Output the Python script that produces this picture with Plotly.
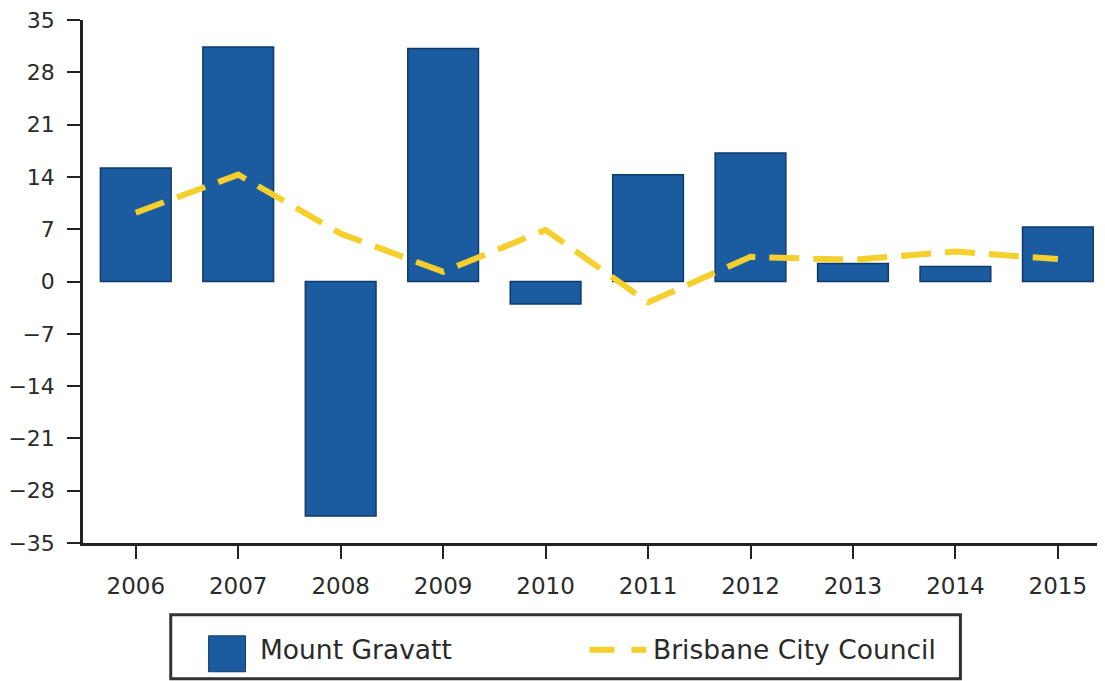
import plotly.graph_objects as go

years = ["2006", "2007", "2008", "2009", "2010", "2011", "2012", "2013", "2014", "2015"]
mount_gravatt = [15.2, 31.4, -31.4, 31.2, -3.0, 14.3, 17.2, 2.4, 2.0, 7.3]
brisbane_city = [9.2, 14.3, 6.4, 1.3, 6.9, -2.8, 3.3, 2.9, 4.0, 3.0]
y_ticks = [-35, -28, -21, -14, -7, 0, 7, 14, 21, 28, 35]

BLUE = "#1a5c9f"
YELLOW = "#f5cf2c"
TXT = "#2a2a2a"

fig = go.Figure()
fig.add_trace(go.Bar(
    x=years, y=mount_gravatt, name="Mount Gravatt",
    marker=dict(color=BLUE, line=dict(color="#0f3a68", width=1.5)),
    width=0.69, showlegend=False,
))
fig.add_trace(go.Scatter(
    x=years, y=brisbane_city, name="Brisbane City Council", mode="lines",
    line=dict(color=YELLOW, width=6, dash="30px,14px"),
    showlegend=False,
))

# page body has an 8px margin; the figure is sized/offset so the plot lands
# where it does in the reference screenshot
OFF = 8
W, H = 1105 - OFF, 681 - OFF
ml, mr, mt, mb = 80 - OFF, 0, 19 - OFF, 138
pw, ph = W - ml - mr, H - mt - mb


def px(x):
    return (x - OFF - ml) / pw


def py(y):
    return (H - mb - (y - OFF)) / ph


shapes = [
    # legend box
    dict(type="rect", xref="paper", yref="paper", x0=px(168), x1=px(960), y0=py(679), y1=py(615),
         line=dict(color="#333333", width=3), fillcolor="white", layer="above"),
    # bar swatch
    dict(type="rect", xref="paper", yref="paper", x0=px(206), x1=px(243), y0=py(672), y1=py(636),
         line=dict(color="#0f3a68", width=1), fillcolor=BLUE, layer="above"),
    # dashed swatch
    dict(type="line", xref="paper", yref="paper", x0=px(588), x1=px(613), y0=py(650), y1=py(650),
         line=dict(color=YELLOW, width=6), layer="above"),
    dict(type="line", xref="paper", yref="paper", x0=px(630), x1=px(645), y0=py(650), y1=py(650),
         line=dict(color=YELLOW, width=6), layer="above"),
]
annotations = [
    dict(text="Mount Gravatt", xref="paper", yref="paper", x=px(256), y=py(650),
         xanchor="left", yanchor="middle", showarrow=False,
         font=dict(family="DejaVu Sans", size=26.5, color=TXT)),
    dict(text="Brisbane City Council", xref="paper", yref="paper", x=px(650), y=py(650),
         xanchor="left", yanchor="middle", showarrow=False,
         font=dict(family="DejaVu Sans", size=26.5, color=TXT)),
]

fig.update_layout(
    width=W, height=H,
    margin=dict(l=ml, r=mr, t=mt, b=mb, pad=0),
    paper_bgcolor="white", plot_bgcolor="white",
    font=dict(family="DejaVu Sans", size=22, color=TXT),
    shapes=shapes, annotations=annotations,
    showlegend=False,
    bargap=0.31,
)
fig.update_xaxes(
    range=[-0.515, 9.46], showgrid=False, zeroline=False,
    showline=True, linecolor="#222222", linewidth=2.5,
    ticks="outside", ticklen=13, tickwidth=2, tickcolor="#222222",
    ticklabelstandoff=8, tickfont=dict(size=23, color=TXT),
    ticklabeloverflow="allow",
)
fig.update_yaxes(
    range=[-35, 35], tickvals=y_ticks, showgrid=False, zeroline=False,
    showline=True, linecolor="#222222", linewidth=2.5,
    ticks="outside", ticklen=13, tickwidth=2, tickcolor="#222222",
    ticklabelstandoff=8, tickfont=dict(size=22, color=TXT),
    ticklabeloverflow="allow",
)

fig.write_html("out.html")
